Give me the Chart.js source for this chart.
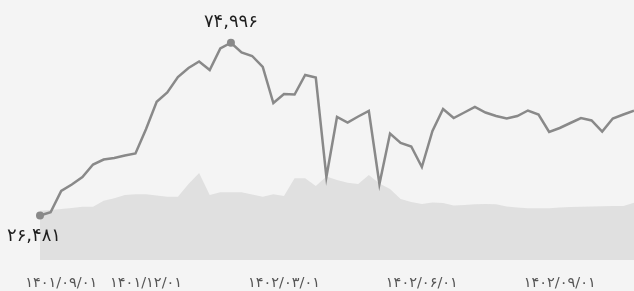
<!DOCTYPE html>
<html lang="fa">
<head>
<meta charset="utf-8">
<script src="https://cdn.jsdelivr.net/npm/chart.js@4.4.1/dist/chart.umd.min.js"></script>
<style>
    html, body { margin: 0; padding: 0; background: #f4f4f4; }
    #wrap { width: 634px; height: 291px; }
</style>
</head>
<body>
<div id="wrap"><canvas id="chart" width="634" height="291"></canvas></div>
<script>
// weekly series
const priceValues = [
    26481, 27393, 33373, 35198, 37304, 40814, 42217, 42639, 43340, 43902,
    50781, 58446, 61029, 65381, 67908, 69733, 67346, 73383, 74996, 72260,
    71277, 68189, 58081, 60608, 60467, 65942, 65241, 37304, 54150, 52606,
    54290, 55835, 35339, 49517, 46850, 45867, 40112, 50219, 56396, 53869,
    55414, 56958, 55414, 54431, 53729, 54431, 55975, 54852, 49939, 51062,
    52465, 53869, 53167, 50079, 53729, 54852, 55919
];
const areaValues = [
    27842, 28038, 28319, 28600, 28965, 28965, 30650, 31323, 32250, 32447,
    32447, 32110, 31773, 31773, 35338, 38427, 32250, 33008, 33008, 33008,
    32390, 31773, 32447, 31969, 36939, 36939, 34777, 37444, 36462, 35703,
    35338, 37865, 35479, 33935, 31127, 30285, 29723, 30144, 30004, 29302,
    29442, 29639, 29723, 29639, 29021, 28740, 28516, 28516, 28516, 28740,
    28881, 28965, 29021, 29077, 29162, 29162, 30088
];
const tickIndex = [2, 10, 23, 36, 49];
const tickLabels = ['۱۴۰۱/۰۹/۰۱', '۱۴۰۱/۱۲/۰۱', '۱۴۰۲/۰۳/۰۱', '۱۴۰۲/۰۶/۰۱', '۱۴۰۲/۰۹/۰۱'];

const FONT = '"DejaVu Sans", sans-serif';

function faNum(n) {
    const s = String(Math.round(n)).replace(/\B(?=(\d{3})+(?!\d))/g, ',');
    return s.replace(/\d/g, d => '۰۱۲۳۴۵۶۷۸۹'[+d]);
}

const peakIdx = priceValues.indexOf(Math.max(...priceValues));
const markIdx = [0, peakIdx];

// draws the two value notes next to the marked points
const notes = {
    id: 'notes',
    afterDatasetsDraw(chart) {
        const meta = chart.getDatasetMeta(1);
        const ctx = chart.ctx;
        ctx.save();
        ctx.fillStyle = '#1e1e1e';
        ctx.font = '18px ' + FONT;
        ctx.textAlign = 'center';
        ctx.textBaseline = 'middle';
        const p0 = meta.data[0];
        ctx.fillText(faNum(priceValues[0]), p0.x - 6, p0.y + 21);
        const pk = meta.data[peakIdx];
        ctx.fillText(faNum(priceValues[peakIdx]), pk.x, pk.y - 20);
        ctx.restore();
    }
};

new Chart(document.getElementById('chart'), {
    type: 'line',
    data: {
        labels: priceValues.map((_, i) => i),
        datasets: [
            {
                data: areaValues,
                order: 2,
                fill: 'start',
                backgroundColor: '#e0e0e0',
                borderWidth: 0,
                pointRadius: 0,
                tension: 0
            },
            {
                data: priceValues,
                order: 1,
                fill: false,
                clip: false,
                borderColor: '#898989',
                borderWidth: 2.5,
                pointRadius: priceValues.map((_, i) => markIdx.includes(i) ? 4 : 0),
                pointBackgroundColor: '#898989',
                pointBorderWidth: 0,
                tension: 0
            }
        ]
    },
    options: {
        responsive: false,
        animation: false,
        layout: { autoPadding: false, padding: { left: 40, right: 0, top: 0, bottom: 0 } },
        plugins: { legend: { display: false }, tooltip: { enabled: false } },
        scales: {
            x: {
                grid: { display: false, drawTicks: false },
                border: { display: false },
                afterFit: s => { s.height = 31; s.paddingLeft = 0; s.paddingRight = 0; },
                ticks: {
                    autoSkip: false, maxRotation: 0, padding: 15,
                    color: '#555', font: { family: FONT, size: 14.5 },
                    callback: (v, i) => {
                        const k = tickIndex.indexOf(i);
                        return k >= 0 ? tickLabels[k] : '';
                    }
                }
            },
            y: { display: false, min: 14000, max: 87000 }
        }
    },
    plugins: [notes]
});
</script>
</body>
</html>
